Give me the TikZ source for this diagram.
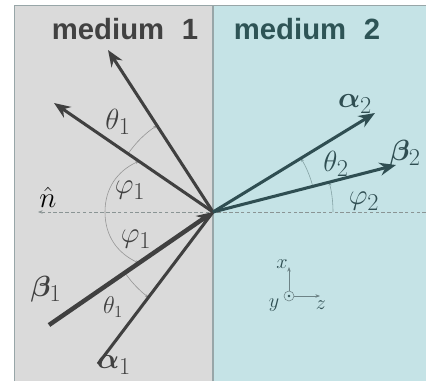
\documentclass[tikz,border=0pt]{standalone}
\usepackage{fontspec}
\usepackage{bm}
\setsansfont{Liberation Sans}
\usetikzlibrary{arrows.meta}
\definecolor{mediumgray}{HTML}{DADADA}
\definecolor{mediumcyan}{HTML}{C5E3E6}
\definecolor{edgegray}{HTML}{98A6A8}
\definecolor{vecgray}{HTML}{404040}
\definecolor{vecteal}{HTML}{2F4E52}
\definecolor{arcgray}{HTML}{959595}
\definecolor{arcteal}{HTML}{84A2A4}
\definecolor{titlegray}{HTML}{414141}
\definecolor{titleteal}{HTML}{2E5456}
\definecolor{normalgray}{HTML}{8A9494}

\begin{document}
\begin{tikzpicture}[
    x=0.03cm, y=0.03cm,
    title/.style={font=\sffamily\bfseries\fontsize{25}{29}\selectfont},
    vec/.style={-{Stealth[length=14pt,width=11pt]}, line width=2.6pt},
    angarc/.style={-{Stealth[length=3pt,width=2.5pt]}, line width=0.5pt},
    anglabel/.style={font=\Huge, inner sep=0pt},
    veclabel/.style={font=\Huge, inner sep=0pt},
    axis/.style={-{Stealth[length=4pt,width=3pt]}, line width=0.5pt, vecteal!70}
]
\useasboundingbox (0,0) rectangle (426,381);

% the two media
\fill[mediumgray] (14,0) rectangle (212,376);
\fill[mediumcyan] (213,0) rectangle (426,376);
\draw[edgegray, line width=0.8pt] (14,0) -- (14,376) -- (426,376);
\draw[edgegray, line width=1.2pt] (213,0) -- (213,376);

\node[title, text=titlegray] (med1) at (125,352) {medium\hspace{0.6em}1};
\node[title, text=titleteal] (med2) at (307,352) {medium\hspace{0.6em}2};

% points
\coordinate (O) at (213,169);
\coordinate (refAtip) at (108,331);
\coordinate (refBtip) at (54,278);
\coordinate (incBtail) at (49,56);
\coordinate (incAtail) at (98,17);
\coordinate (traAtip) at (375,268);
\coordinate (traBtip) at (396,216);
\coordinate (nstart) at (426,169);
\coordinate (nend) at (38,169);

% normal
\draw[normalgray, line width=0.5pt, dash pattern=on 3pt off 2pt,
    -{Stealth[length=4pt,width=3pt]}] (nstart) -- (nend);
\node[font=\Huge, inner sep=0pt] (nhat) at (48,184) {$\hat{n}$};

% angle marks
\draw[angarc, arcgray] ([shift={(145.6:103)}]O) arc[start angle=145.6, end angle=123, radius=103];
\coordinate (phiL) at (105,169);
\coordinate (phiU) at ([shift={(145.6:90)}]O);
\coordinate (phiD) at ([shift={(214.6:90)}]O);
\draw[angarc, arcgray] (phiL) to[out=90, in=205] (phiU);
\draw[angarc, arcgray] (phiL) to[out=-90, in=155] (phiD);
\draw[angarc, arcgray] ([shift={(214.6:107)}]O) arc[start angle=214.6, end angle=232.9, radius=107];
\draw[angarc, arcteal] ([shift={(14.4:103)}]O) arc[start angle=14.4, end angle=31.4, radius=103];
\draw[angarc, arcteal] ([shift={(0:120)}]O) arc[start angle=0, end angle=14.4, radius=120];

% vectors
\draw[vec, vecgray] (O) -- (refAtip);
\draw[vec, vecgray] (O) -- (refBtip);
\draw[vecgray, line width=2.6pt] (incAtail) -- (O);
\draw[vec, vecgray, line width=3.8pt] (incBtail) -- (O);
\draw[vec, vecteal] (O) -- (traAtip);
\draw[vec, vecteal] (O) -- (traBtip);

% labels
\node[anglabel, text=vecgray] (th1up) at (118,259) {$\theta_1$};
\node[anglabel, text=vecgray] (ph1up) at (130,191) {$\varphi_1$};
\node[anglabel, text=vecgray] (ph1dn) at (136,142) {$\varphi_1$};
\node[anglabel, text=vecgray, font=\huge] (th1dn) at (113,74) {$\theta_1$};
\node[anglabel, text=vecteal] (th2) at (336,217) {$\theta_2$};
\node[anglabel, text=vecteal] (ph2) at (364,180) {$\varphi_2$};
\node[veclabel, text=vecgray] (b1) at (46,92) {$\bm{\beta}_1$};
\node[veclabel, text=vecgray] (a1) at (114,16) {$\bm{\alpha}_1$};
\node[veclabel, text=vecteal] (a2) at (355,277) {$\bm{\alpha}_2$};
\node[veclabel, text=vecteal] (b2) at (405,228) {$\bm{\beta}_2$};

% axes
\coordinate (ax0) at (289,85);
\coordinate (axx) at (289,114);
\coordinate (axz) at (320,85);
\draw[vecteal!70, line width=0.5pt] (ax0) circle[radius=5];
\fill[vecteal] (ax0) circle[radius=1.3];
\draw[axis] ([yshift=5*0.03cm]ax0) -- (axx);
\draw[axis] ([xshift=5*0.03cm]ax0) -- (axz);
\node[font=\LARGE, text=vecteal, inner sep=0pt] (lx) at (282,117) {$x$};
\node[font=\LARGE, text=vecteal, inner sep=0pt] (ly) at (274,76) {$y$};
\node[font=\LARGE, text=vecteal, inner sep=0pt] (lz) at (321,76) {$z$};

\end{tikzpicture}
\end{document}
